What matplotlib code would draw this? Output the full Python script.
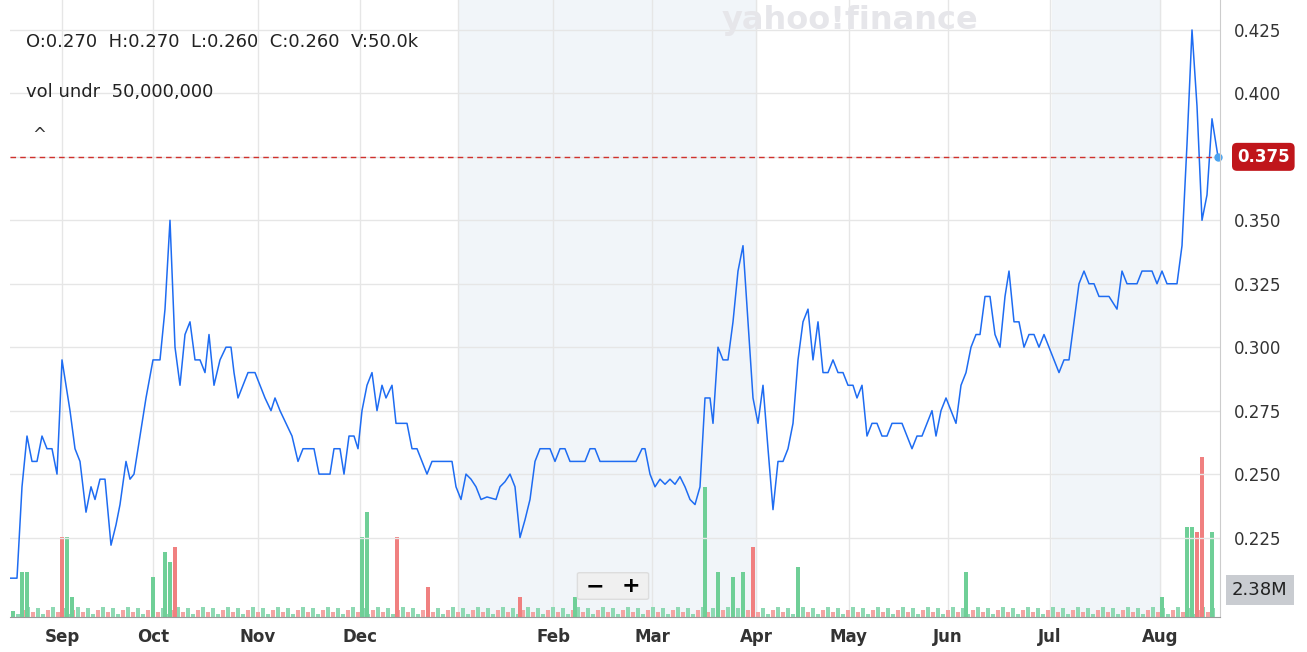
import numpy as np
import matplotlib.pyplot as plt
from matplotlib.patches import FancyBboxPatch

# read positions along the time axis (chart px), converted to days since 1 Sep 2024
px = [10, 17, 22, 27, 32, 37, 42, 47, 52, 57, 62, 66, 70, 75, 80, 86, 91, 95, 100, 105, 111, 116, 120, 126, 130, 134, 140, 146, 153, 160, 165, 170, 175, 180, 185, 190, 195, 200, 205, 209, 214, 220, 226, 231, 234, 238, 243, 248, 255, 260, 265, 271, 275, 280, 286, 292, 298, 303, 314, 319, 330, 334, 340, 344, 349, 354, 358, 362, 367, 372, 377, 382, 386, 392, 396, 407, 412, 417, 422, 427, 432, 452, 456, 461, 466, 471, 476, 481, 487, 496, 500, 505, 510, 515, 520, 525, 530, 535, 540, 550, 555, 560, 565, 570, 585, 590, 595, 600, 636, 642, 645, 650, 655, 660, 665, 670, 675, 680, 685, 690, 695, 700, 705, 710, 713, 718, 723, 728, 733, 738, 743, 748, 753, 758, 763, 768, 773, 778, 783, 788, 793, 798, 803, 808, 813, 818, 823, 828, 833, 838, 843, 848, 853, 857, 862, 867, 872, 877, 882, 887, 892, 902, 907, 912, 917, 922, 927, 932, 936, 941, 946, 951, 956, 961, 966, 971, 976, 980, 985, 990, 995, 1000, 1005, 1009, 1014, 1019, 1024, 1029, 1034, 1039, 1044, 1049, 1054, 1059, 1064, 1069, 1074, 1079, 1084, 1089, 1094, 1099, 1109, 1117, 1122, 1127, 1137, 1142, 1152, 1157, 1162, 1167, 1177, 1182, 1187, 1192, 1197, 1202, 1207, 1212, 1218]
days = (np.array(px) - 62) / 3.287
price = [0.209, 0.209, 0.245, 0.265, 0.255, 0.255, 0.265, 0.26, 0.26, 0.25, 0.295, 0.285, 0.275, 0.26, 0.255, 0.235, 0.245, 0.24, 0.248, 0.248, 0.222, 0.23, 0.238, 0.255, 0.248, 0.25, 0.265, 0.28, 0.295, 0.295, 0.315, 0.35, 0.30, 0.285, 0.305, 0.31, 0.295, 0.295, 0.29, 0.305, 0.285, 0.295, 0.30, 0.30, 0.29, 0.28, 0.285, 0.29, 0.29, 0.285, 0.28, 0.275, 0.28, 0.275, 0.27, 0.265, 0.255, 0.26, 0.26, 0.25, 0.25, 0.26, 0.26, 0.25, 0.265, 0.265, 0.26, 0.275, 0.285, 0.29, 0.275, 0.285, 0.28, 0.285, 0.27, 0.27, 0.26, 0.26, 0.255, 0.25, 0.255, 0.255, 0.245, 0.24, 0.25, 0.248, 0.245, 0.24, 0.241, 0.24, 0.245, 0.247, 0.25, 0.245, 0.225, 0.232, 0.24, 0.255, 0.26, 0.26, 0.255, 0.26, 0.26, 0.255, 0.255, 0.26, 0.26, 0.255, 0.255, 0.26, 0.26, 0.25, 0.245, 0.248, 0.246, 0.248, 0.246, 0.249, 0.245, 0.24, 0.238, 0.245, 0.28, 0.28, 0.27, 0.30, 0.295, 0.295, 0.31, 0.33, 0.34, 0.31, 0.28, 0.27, 0.285, 0.26, 0.236, 0.255, 0.255, 0.26, 0.27, 0.295, 0.31, 0.315, 0.295, 0.31, 0.29, 0.29, 0.295, 0.29, 0.29, 0.285, 0.285, 0.28, 0.285, 0.265, 0.27, 0.27, 0.265, 0.265, 0.27, 0.27, 0.265, 0.26, 0.265, 0.265, 0.27, 0.275, 0.265, 0.275, 0.28, 0.275, 0.27, 0.285, 0.29, 0.30, 0.305, 0.305, 0.32, 0.32, 0.305, 0.30, 0.32, 0.33, 0.31, 0.31, 0.30, 0.305, 0.305, 0.30, 0.305, 0.30, 0.295, 0.29, 0.295, 0.295, 0.31, 0.325, 0.33, 0.325, 0.325, 0.32, 0.32, 0.315, 0.33, 0.325, 0.325, 0.33, 0.33, 0.325, 0.33, 0.325, 0.325, 0.34, 0.38, 0.425, 0.395, 0.35, 0.36, 0.39, 0.375]

# volume (millions), notable bars; True = up day (green)
vol_px = [13, 22, 27, 62, 67, 72, 153, 165, 170, 175, 362, 367, 397, 428, 520, 575, 705, 718, 733, 743, 753, 798, 966, 1162, 1187, 1192, 1197, 1202, 1212]
vol_m = [0.5, 4.0, 4.0, 7.0, 7.0, 1.8, 3.5, 5.7, 4.8, 6.2, 7.0, 9.2, 7.0, 2.6, 1.8, 1.8, 11.4, 4.0, 3.5, 4.0, 6.2, 4.4, 4.0, 1.8, 7.9, 7.9, 7.5, 14.1, 7.5]
vol_up = [True, True, True, False, True, True, True, True, True, False, True, True, False, False, False, True, True, True, True, True, False, True, True, True, True, True, False, False, True]
# small background volume every few sessions
small_px = list(range(18, 1215, 5))
small_m = [0.3 + 0.6 * ((i * 7) % 5) / 4 for i in range(len(small_px))]
small_up = [(i * 3) % 5 < 3 for i in range(len(small_px))]

month_px = [62, 153, 258, 360, 458, 553, 652, 756, 849, 948, 1050, 1160]
month_labels = ["Sep", "Oct", "Nov", "Dec", "", "Feb", "Mar", "Apr", "May", "Jun", "Jul", "Aug"]
yticks = [0.225, 0.25, 0.275, 0.3, 0.325, 0.35, 0.375, 0.4, 0.425]

to_day = lambda p: (np.array(p) - 62) / 3.287
xmin, xmax = to_day(10), to_day(1220)

fig = plt.figure(figsize=(13.07, 6.52), dpi=100)
ax = fig.add_axes([10 / 1307, 1 - 617 / 652, 1210 / 1307, 617 / 652])
ax.set_xlim(xmin, xmax)
ax.set_ylim(0.1937, 0.4368)

# volume on a twin axis drawn underneath; shading and grid live there too
vax = ax.twinx()
vax.set_ylim(0, 617 * 0.088)
vax.axis("off")
for a, b in [(459, 756), (1052, 1160)]:
    vax.axvspan(to_day(a), to_day(b), color="#f1f5f9", zorder=0)
for m in month_px:
    vax.axvline(to_day(m), color="#e6e6e6", lw=1, zorder=0.5)
for t in yticks:
    ax.axhline(t, color="#e6e6e6", lw=1, zorder=0.5)
vax.bar(to_day(small_px), small_m, width=1.1, color=["#8ed9b3" if u else "#f4a3a3" for u in small_up], zorder=1)
vax.bar(to_day(vol_px), vol_m, width=1.1, color=["#6fcf97" if u else "#f08080" for u in vol_up], zorder=1)

ax.set_zorder(vax.get_zorder() + 1)
ax.patch.set_visible(False)
ax.plot(days, price, color="#1e6cf2", lw=1.1)
ax.axhline(0.375, color="#d0312d", lw=1, ls=(0, (4, 3)))
ax.plot(days[-1], price[-1], "o", ms=5, color="#4aa3f0", clip_on=False)

ax.yaxis.tick_right()
ax.set_yticks(yticks)
ax.set_yticklabels([f"{t:.3f}" for t in yticks], fontsize=12, color="#333333")
ax.set_xticks(to_day(month_px))
ax.set_xticklabels(month_labels, fontsize=12, fontweight="bold", color="#333333")
ax.tick_params(length=0, pad=8)
ax.tick_params(axis="y", pad=10)
for s in ["top", "left"]:
    ax.spines[s].set_visible(False)
ax.spines["right"].set_color("#cccccc")
ax.spines["bottom"].set_color("#999999")

ax.text(1.0 + 17 / 1210, (0.375 - 0.1937) / (0.4368 - 0.1937), "0.375", transform=ax.transAxes,
        fontsize=12, fontweight="bold", color="white", va="center",
        bbox=dict(boxstyle="round,pad=0.3", fc="#c0161b", ec="none"))
ax.text(1.0 + 12 / 1210, 27 / 617, "2.38M", transform=ax.transAxes, fontsize=13, color="#222222",
        va="center", bbox=dict(boxstyle="square,pad=0.35", fc="#c9ccd1", ec="none"))

fig.text(26 / 1307, 1 - 42 / 652, "O:0.270  H:0.270  L:0.260  C:0.260  V:50.0k", fontsize=13, color="#222222", va="center")
fig.text(26 / 1307, 1 - 92 / 652, "vol undr  50,000,000", fontsize=13, color="#222222", va="center")
fig.text(32 / 1307, 1 - 135 / 652, "^", fontsize=12, color="#333333", va="center")
fig.text(850 / 1307, 1 - 20 / 652, "yahoo!finance", fontsize=23, fontweight="bold", color="#e6e6ea", ha="center", va="center")

box = FancyBboxPatch((580 / 1307, 1 - 598 / 652), 66 / 1307, 24 / 652, boxstyle="round,pad=0.002",
                     transform=fig.transFigure, fc="#f0f0f0", ec="#dddddd")
fig.patches.append(box)
fig.text(595 / 1307, 1 - 586 / 652, "−", fontsize=16, fontweight="bold", ha="center", va="center")
fig.text(631 / 1307, 1 - 586 / 652, "+", fontsize=16, fontweight="bold", ha="center", va="center")

fig.savefig("out.png", dpi=100)
